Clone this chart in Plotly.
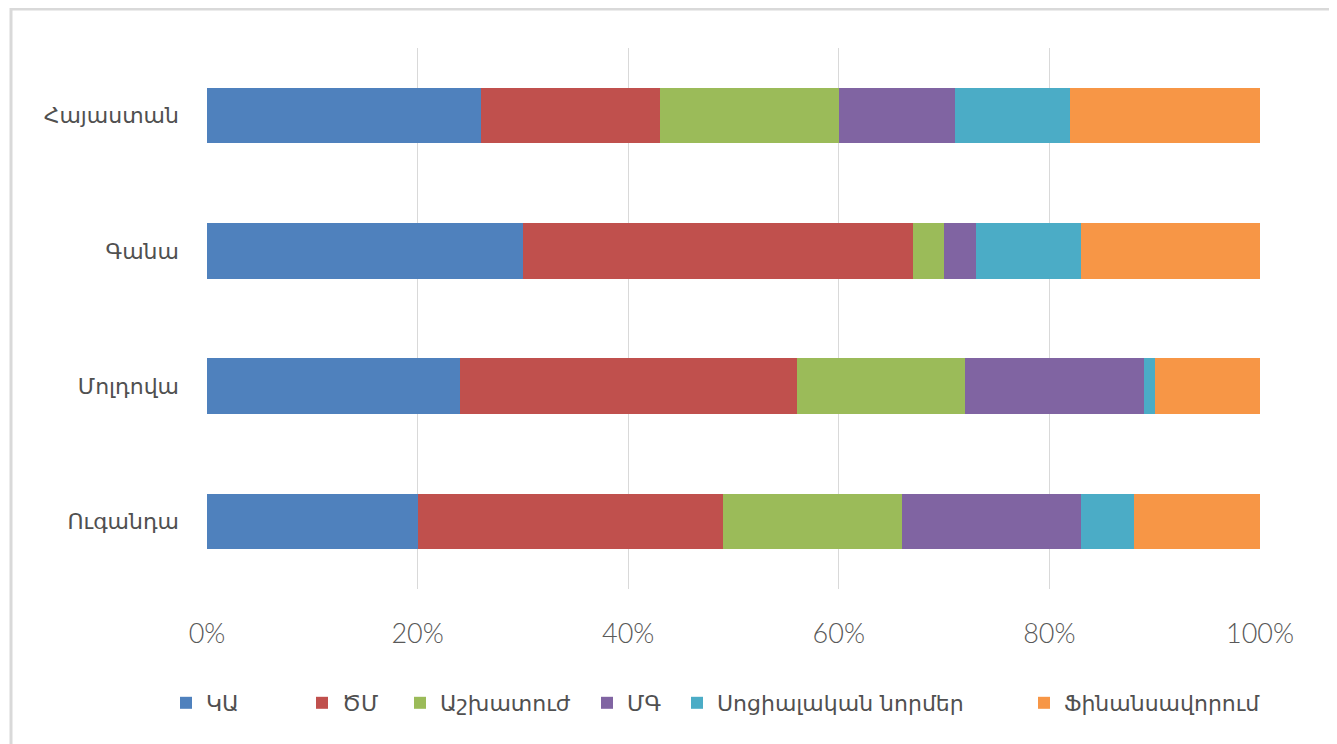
import plotly.graph_objects as go

countries = ["Ուգանդա", "Մոլդովա", "Գանա", "Հայաստան"]
series_names = ["ԿԱ", "ԾՄ", "Աշխատուժ", "ՄԳ", "Սոցիալական նորմեր", "Ֆինանսավորում"]
colors = ["#4f81bd", "#c0504d", "#9bbb59", "#8064a2", "#4bacc6", "#f79646"]

# shares (%) per series, in the order of `countries`
ka = [20, 24, 30, 26]
tsm = [29, 32, 37, 17]
ashkhatuzh = [17, 16, 3, 17]
mg = [17, 17, 3, 11]
sots = [5, 1, 10, 11]
fin = [12, 10, 17, 18]
values = [ka, tsm, ashkhatuzh, mg, sots, fin]

x_ticks = [0, 20, 40, 60, 80, 100]
x_labels = ["0%", "20%", "40%", "60%", "80%", "100%"]

W, H = 1337, 744
OFF = 8  # page body margin
L, R, T, B = 199, 85, 40, 163
pw, ph = W - L - R, H - T - B

def px(x):
    return (x - OFF - L) / pw

def py(y):
    return (H - B - (y - OFF)) / ph

# screen x of each legend swatch (layout only)
legend_x = [186, 322, 420, 607, 697, 1044]
legend_names = ["legend"] + [f"legend{i}" for i in range(2, 7)]

fig = go.Figure()
for name, vals, col, lg in zip(series_names, values, colors, legend_names):
    fig.add_trace(go.Bar(
        y=countries, x=vals, name=name, orientation="h", legend=lg,
        marker=dict(color=col, line=dict(width=0)),
    ))

legend_font = dict(family="DejaVu Sans", size=22, color="#505050")
layout_legends = {}
for lg, lx in zip(legend_names, legend_x):
    layout_legends[lg] = dict(
        orientation="h", x=px(lx - 20), xanchor="left", y=py(703), yanchor="middle",
        font=legend_font, itemwidth=30, bgcolor="rgba(0,0,0,0)",
    )

fig.update_layout(
    width=W, height=H,
    barmode="stack", bargap=0.59,
    margin=dict(l=L, r=R, t=T, b=B),
    paper_bgcolor="white", plot_bgcolor="white",
    showlegend=True,
    xaxis=dict(
        range=[0, 100], tickvals=x_ticks, ticktext=x_labels,
        showgrid=True, gridcolor="#d9d9d9", gridwidth=1,
        zeroline=False, showline=False, ticks="",
        tickfont=dict(family="Lato", size=27, color="#595959", weight=300),
        ticklabelstandoff=26,
    ),
    yaxis=dict(
        categoryorder="array", categoryarray=countries,
        showgrid=False, zeroline=False, showline=False, ticks="",
        tickfont=dict(family="DejaVu Sans", size=22, color="#505050"),
        ticklabelstandoff=27,
    ),
    shapes=[dict(
        type="rect", xref="paper", yref="paper",
        x0=px(11), x1=px(1335), y0=py(770), y1=py(9),
        line=dict(color="#d9d9d9", width=3), fillcolor="rgba(0,0,0,0)", layer="below",
    )],
    **layout_legends,
)

fig.write_html("out.html")
